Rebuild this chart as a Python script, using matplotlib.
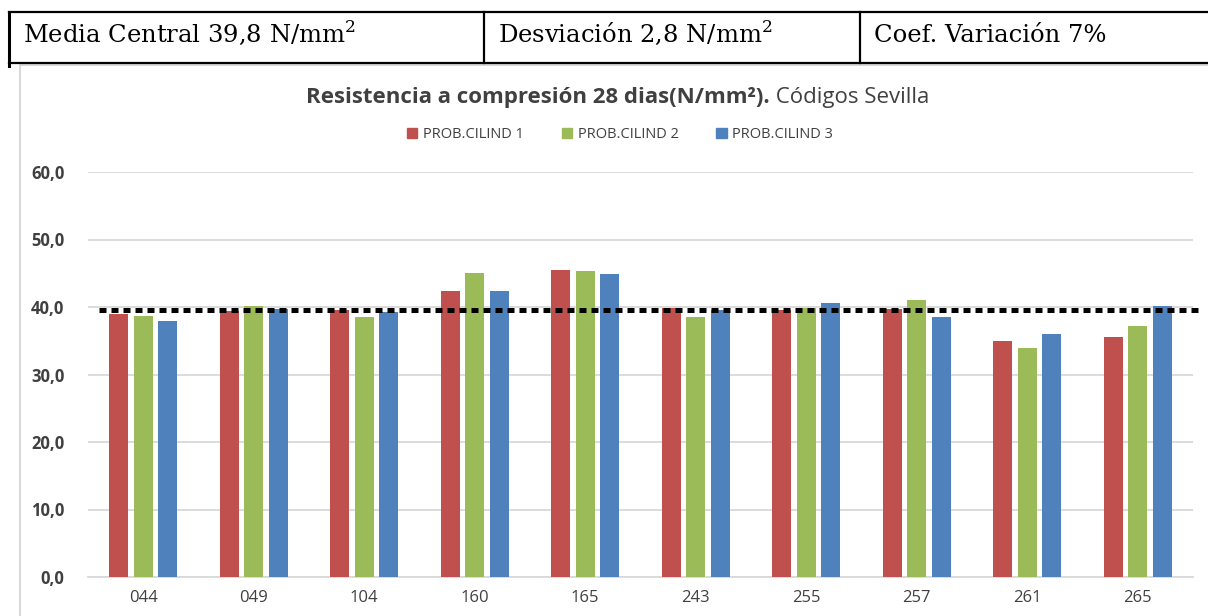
import matplotlib.pyplot as plt
import matplotlib.patches as mpatches
from matplotlib.lines import Line2D
import numpy as np

# DATA
codes = ['044', '049', '104', '160', '165', '243', '255', '257', '261', '265']
cilind_1 = [39.0, 39.4, 39.5, 42.4, 45.5, 39.9, 39.6, 39.7, 35.0, 35.5]
cilind_2 = [38.7, 40.2, 38.5, 45.0, 45.4, 38.5, 39.9, 41.0, 34.0, 37.2]
cilind_3 = [38.0, 39.7, 39.3, 42.3, 44.9, 39.6, 40.6, 38.5, 36.0, 40.1]
series_names = ['PROB.CILIND 1', 'PROB.CILIND 2', 'PROB.CILIND 3']
mean_line = 39.5
y_ticks = [0, 10, 20, 30, 40, 50, 60]
table_texts = ['Media Central 39,8 N/mm$^{2}$', 'Desviación 2,8 N/mm$^{2}$', 'Coef. Variación 7%']

colors = ['#C0504D', '#9BBB59', '#4F81BD']

plt.rcParams['mathtext.fontset'] = 'custom'
plt.rcParams['mathtext.rm'] = 'DejaVu Serif'

W, H = 1208, 616
fig = plt.figure(figsize=(W / 100, H / 100), dpi=100)

def fx(px):
    return px / W

def fy(py):
    return 1 - py / H

# chart frame (light gray)
fig.add_artist(Line2D([fx(20), fx(20)], [fy(65), fy(H + 5)], color='#d9d9d9', lw=1.5))
fig.add_artist(Line2D([fx(20), fx(W + 5)], [fy(65), fy(65)], color='#d9d9d9', lw=1.5))

# table at the top
tk = dict(color='black', lw=1.6)
fig.add_artist(Line2D([fx(9), fx(W + 5)], [fy(12), fy(12)], **tk))
fig.add_artist(Line2D([fx(9), fx(W + 5)], [fy(63), fy(63)], **tk))
fig.add_artist(Line2D([fx(9), fx(9)], [fy(12), fy(66)], color='black', lw=2.2))
for xp in [484, 860]:
    fig.add_artist(Line2D([fx(xp), fx(xp)], [fy(12), fy(63)], **tk))
for xp, txt in zip([23, 498, 874], table_texts):
    fig.text(fx(xp), fy(42), txt, family='DejaVu Serif', fontsize=17.5,
             ha='left', va='baseline', color='black')

# axes
ax = fig.add_axes([fx(88), fy(577), fx(1193) - fx(88), fy(172) - fy(577)])
x = np.arange(len(codes))
step = 0.222
width = 0.175
for i, (vals, c, name) in enumerate(zip([cilind_1, cilind_2, cilind_3], colors, series_names)):
    ax.bar(x + (i - 1) * step, vals, width=width, color=c, label=name, zorder=3)

ax.set_xlim(-0.5, len(codes) - 0.5)
ax.set_ylim(0, 60)
ax.set_yticks(y_ticks)
ax.set_yticklabels([f'{v:.1f}'.replace('.', ',') for v in y_ticks],
                   fontsize=12, fontweight='bold', color='#404040', family='Open Sans')
ax.set_xticks(x)
ax.set_xticklabels(codes, fontsize=12, color='#404040', family='Open Sans')
ax.tick_params(axis='y', length=0, pad=17)
ax.tick_params(axis='x', length=0, pad=9)
ax.grid(axis='y', color='#d9d9d9', lw=1.3, zorder=0)
for s in ['top', 'right', 'left']:
    ax.spines[s].set_visible(False)
ax.spines['bottom'].set_color('#d9d9d9')
ax.spines['bottom'].set_linewidth(1.3)

# mean dotted line (runs a bit past the plot area)
ax.plot([-0.4, len(codes) - 0.44], [mean_line, mean_line], color='black', lw=3.6,
        dashes=(1.4, 1.0), solid_capstyle='butt', dash_capstyle='butt',
        clip_on=False, zorder=4)

# title: bold part + regular part, centred together
t1 = fig.text(0, fy(97), 'Resistencia a compresión 28 dias(N/mm²).',
              fontsize=16, fontweight='bold', color='#404040', family='Open Sans',
              ha='left', va='center')
t2 = fig.text(0, fy(97), ' Códigos Sevilla', fontsize=16,
              color='#404040', family='Open Sans', ha='left', va='center')
r = fig.canvas.get_renderer()
w1 = t1.get_window_extent(r).width
w2 = t2.get_window_extent(r).width
x0 = 618 - (w1 + w2) / 2
t1.set_x(fx(x0))
t2.set_x(fx(x0 + w1))

# legend
handles = [mpatches.Patch(color=c) for c in colors]
fig.legend(handles, series_names, loc='center', bbox_to_anchor=(fx(620), fy(135)),
           ncol=3, frameon=False, handlelength=0.7, handleheight=0.7,
           handletextpad=0.4, columnspacing=2.6,
           prop={'family': 'Open Sans', 'size': 10.5}, labelcolor='#404040')

fig.savefig('out.png', dpi=100, facecolor='white')
